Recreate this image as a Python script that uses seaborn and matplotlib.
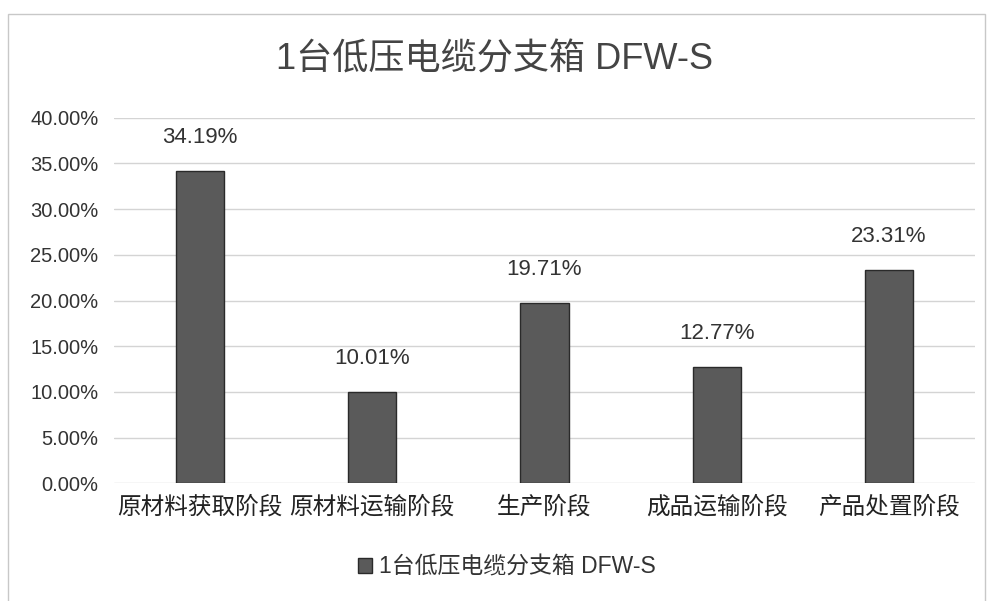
import matplotlib
matplotlib.use("Agg")
import matplotlib.pyplot as plt
import seaborn as sns
import pandas as pd
from matplotlib.patches import Rectangle
from matplotlib.ticker import PercentFormatter, MultipleLocator

# data
stages = ["原材料获取阶段", "原材料运输阶段", "生产阶段", "成品运输阶段", "产品处置阶段"]
shares = [34.19, 10.01, 19.71, 12.77, 23.31]
series_name = "1台低压电缆分支箱 DFW-S"

df = pd.DataFrame({"stage": stages, "share": shares})

sns.set_theme(style="white")
plt.rcParams["font.family"] = ["Liberation Sans", "Noto Sans CJK SC", "DejaVu Sans"]

fig = plt.figure(figsize=(9.9, 6.01), dpi=100)
ax = fig.add_axes([0.115, 0.196, 0.87, 0.608])

sns.barplot(data=df, x="stage", y="share", color="#5a5a5a", edgecolor="#2a2a2a",
            linewidth=1.0, width=0.28, saturation=1, label=series_name, ax=ax)

for bar, v in zip(ax.patches, shares):
    ax.text(bar.get_x() + bar.get_width() / 2, v + 2.5, f"{v:.2f}%",
            ha="center", va="bottom", fontsize=16, color="#333333")

ax.set_ylim(0, 40)
ax.yaxis.set_major_locator(MultipleLocator(5))
ax.yaxis.set_major_formatter(PercentFormatter(decimals=2))
ax.grid(axis="y", color="#d4d4d4", linewidth=1)
ax.set_axisbelow(True)
for s in ax.spines.values():
    s.set_visible(False)
ax.set_xlabel("")
ax.set_ylabel("")
ax.tick_params(axis="y", labelsize=14.5, colors="#333333", length=0, pad=11)
ax.tick_params(axis="x", labelsize=17, colors="#222222", length=0, pad=9)

fig.suptitle(series_name, y=0.93, fontsize=26, color="#444444")

handles, labels = ax.get_legend_handles_labels()
if ax.get_legend() is not None:
    ax.get_legend().remove()
fig.legend(handles, labels, loc="center", bbox_to_anchor=(0.512, 1 - 567 / 601),
           frameon=False, fontsize=16.5, handlelength=0.6, handleheight=0.6,
           handletextpad=0.3, labelcolor="#333333")

fig.patches.append(Rectangle((8 / 990, -0.01), 977 / 990, 1 - 14 / 601 + 0.01,
                             transform=fig.transFigure, fill=False,
                             edgecolor="#c8c8c8", linewidth=1))

fig.savefig("out.png", dpi=100)
